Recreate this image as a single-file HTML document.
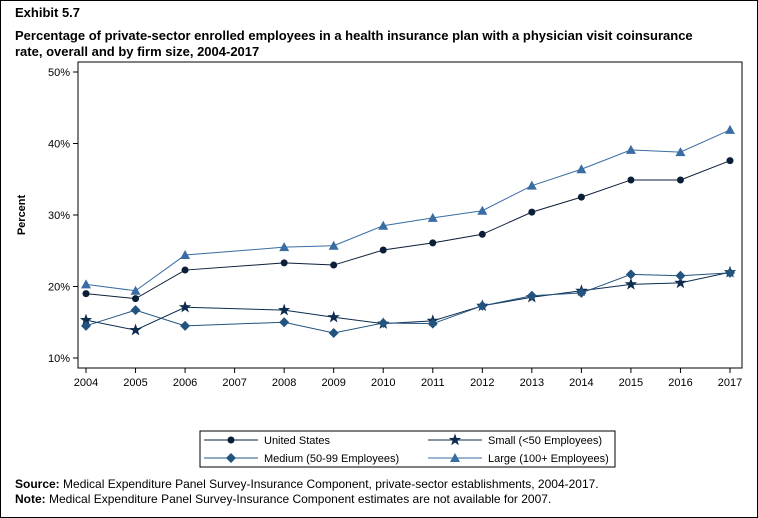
<!DOCTYPE html>
<html><head><meta charset="utf-8">
<style>
body{margin:0;background:#fff;font-family:"Liberation Sans",Arial,sans-serif;}
#wrap{position:relative;width:758px;height:518px;overflow:hidden;box-sizing:border-box;border:1px solid #000;}
.title{position:absolute;left:14px;font-size:13px;font-weight:bold;color:#000;}
.foot{position:absolute;left:14px;font-size:12px;color:#000;}
</style></head>
<body>
<div id="wrap">
<div class="title" style="top:4px">Exhibit 5.7</div>
<div class="title" style="top:27px;line-height:16px;width:700px">Percentage of private-sector enrolled employees in a health insurance plan with a physician visit coinsurance rate, overall and by firm size, 2004-2017</div>
<svg id="chart" width="758" height="518" style="position:absolute;left:-1px;top:-1px"></svg>
<div class="foot" style="top:476px"><b>Source:</b> Medical Expenditure Panel Survey-Insurance Component, private-sector establishments, 2004-2017.</div>
<div class="foot" style="top:491px"><b>Note:</b> Medical Expenditure Panel Survey-Insurance Component estimates are not available for 2007.</div>
</div>
<script>
const years=[2004,2005,2006,2008,2009,2010,2011,2012,2013,2014,2015,2016,2017];
const tickYears=[2004,2005,2006,2007,2008,2009,2010,2011,2012,2013,2014,2015,2016,2017];
const yTicks=[10,20,30,40,50];
const usVals=[19.0,18.3,22.3,23.3,23.0,25.1,26.1,27.3,30.4,32.5,34.9,34.9,37.6];
const smallVals=[15.3,13.9,17.1,16.7,15.7,14.8,15.2,17.3,18.5,19.4,20.3,20.5,22.0];
const mediumVals=[14.5,16.7,14.5,15.0,13.5,14.9,14.8,17.3,18.7,19.1,21.7,21.5,21.9];
const largeVals=[20.3,19.4,24.4,25.5,25.7,28.5,29.6,30.6,34.1,36.4,39.1,38.8,41.9];

const NS="http://www.w3.org/2000/svg";
const svg=document.getElementById('chart');
const X=y=>86+(y-2004)*(730-86)/13;
const Y=v=>358-(v-10)*(358-72)/40;
function mk(t,a,p){const e=document.createElementNS(NS,t);for(const k in a)e.setAttribute(k,a[k]);(p||svg).appendChild(e);return e;}

const frame=mk('rect',{x:78,y:62,width:664,height:306,fill:'none',stroke:'#000','stroke-width':1});



yTicks.forEach(v=>{
  const l=mk('line',{x1:73,x2:78,y1:Y(v),y2:Y(v),stroke:'#000'});
  
  
  const t=mk('text',{x:70,y:Y(v)+4,'text-anchor':'end','font-size':11});
  t.textContent=v+'%';
  
  
});
tickYears.forEach(y=>{
  const l=mk('line',{x1:X(y),x2:X(y),y1:368,y2:373,stroke:'#000'});
  
  
  const t=mk('text',{x:X(y),y:386,'text-anchor':'middle','font-size':11});
  t.textContent=y;
  
  
});
const yt=mk('text',{x:0,y:0,transform:'translate(25,215) rotate(-90)','text-anchor':'middle','font-size':11,'font-weight':'bold'});
yt.textContent='Percent';



function marker(shape,x,y,color,g){
  let e;
  if(shape==='circle') e=mk('circle',{cx:x,cy:y,r:3.5,fill:color},g);
  else if(shape==='diamond') e=mk('polygon',{points:`${x},${y-5} ${x+5},${y} ${x},${y+5} ${x-5},${y}`,fill:color},g);
  else if(shape==='triangle') e=mk('polygon',{points:`${x},${y-5} ${x+5},${y+4} ${x-5},${y+4}`,fill:color},g);
  else {let p=[];for(let i=0;i<10;i++){const r=i%2?2.6:6.5,a=-Math.PI/2+i*Math.PI/5;p.push((x+r*Math.cos(a)).toFixed(1)+','+(y+r*Math.sin(a)).toFixed(1));}
    e=mk('polygon',{points:p.join(' '),fill:color},g);}
  return e;
}
const series=[
  {name:'us',vals:usVals,color:'#0b1e38',shape:'circle'},
  {name:'small',vals:smallVals,color:'#0d2c4f',shape:'star'},
  {name:'medium',vals:mediumVals,color:'#22547f',shape:'diamond'},
  {name:'large',vals:largeVals,color:'#3a6da3',shape:'triangle'}
];
series.forEach(s=>{
  const g=mk('g',{});
  
  
  const pl=mk('polyline',{points:years.map((y,i)=>X(y)+','+Y(s.vals[i])).join(' '),fill:'none',stroke:s.color,'stroke-width':1},g);
  
  
  years.forEach((y,i)=>{
    const m=marker(s.shape,X(y),Y(s.vals[i]),s.color,g);
    
    
  });
});
const lg=mk('g',{});


mk('rect',{x:200,y:431,width:415,height:36,fill:'#fff',stroke:'#000'},lg);
const entries=[
  {label:'United States',s:series[0],x:204,y:440},
  {label:'Small (<50 Employees)',s:series[1],x:428,y:440},
  {label:'Medium (50-99 Employees)',s:series[2],x:204,y:458},
  {label:'Large (100+ Employees)',s:series[3],x:428,y:458}
];
entries.forEach(e=>{
  const g=mk('g',{},lg);
  
  
  mk('line',{x1:e.x,x2:e.x+54,y1:e.y,y2:e.y,stroke:e.s.color},g);
  marker(e.s.shape,e.x+27,e.y,e.s.color,g);
  const t=mk('text',{x:e.x+60,y:e.y+4,'font-size':11},g);
  t.textContent=e.label;
});
</script>
</body></html>
